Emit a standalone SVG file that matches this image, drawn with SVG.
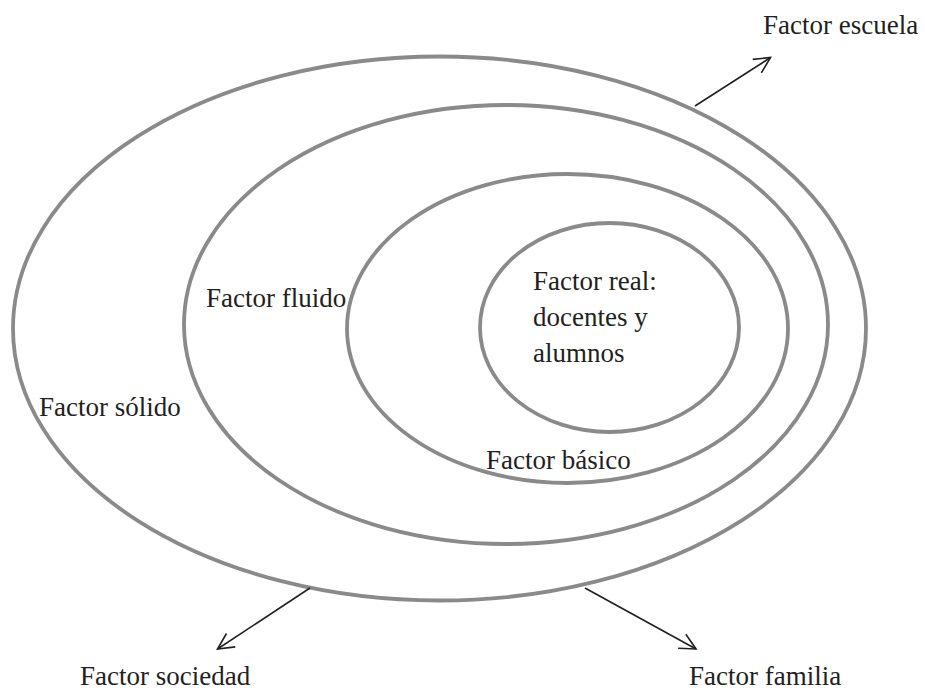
<svg xmlns="http://www.w3.org/2000/svg" width="925" height="690" viewBox="0 0 925 690">
<style>
.ring{fill:none;stroke:#8a8a8d;stroke-width:3.8}
.lbl{font-family:'Liberation Serif','Times New Roman',Times,'DejaVu Serif',serif;font-size:27px;fill:#231f20}
.conn{stroke:#231f20;stroke-width:1.6;fill:none}
</style>
<defs>
<marker id="arr" viewBox="0 0 20 20" refX="18" refY="10" markerWidth="20" markerHeight="20" markerUnits="userSpaceOnUse" orient="auto">
<path d="M2,2 L18,10 L2,18" fill="none" stroke="#231f20" stroke-width="1.6"/>
</marker>
</defs>
<rect width="925" height="690" fill="#fff"/>
<g id="solido">
<ellipse class="ring" cx="439.5" cy="328.5" rx="426.5" ry="272"/>
<text class="lbl" x="39" y="416" font-family="Liberation Serif, serif">Factor sólido</text>
</g>
<g id="fluido">
<ellipse class="ring" cx="506" cy="324.5" rx="322" ry="219.5"/>
<text class="lbl" x="206" y="307">Factor fluido</text>
</g>
<g id="basico">
<ellipse class="ring" cx="567.5" cy="328.5" rx="220.5" ry="154.5"/>
<text class="lbl" x="486" y="469">Factor básico</text>
</g>
<g id="real">
<ellipse class="ring" cx="609.5" cy="327.5" rx="129.5" ry="104.5"/>
<text class="lbl" x="533" y="290">Factor real:</text>
<text class="lbl" x="533" y="326">docentes y</text>
<text class="lbl" x="533" y="362">alumnos</text>
</g>
<g id="escuela">
<text class="lbl" x="763" y="34">Factor escuela</text>
</g>
<g id="sociedad">
<text class="lbl" x="80" y="685">Factor sociedad</text>
</g>
<g id="familia">
<text class="lbl" x="689" y="685">Factor familia</text>
</g>
<g id="connectors">
<line class="conn" x1="695" y1="106" x2="770.5" y2="57.5" marker-end="url(#arr)"/>
<line class="conn" x1="310" y1="588" x2="217.5" y2="649" marker-end="url(#arr)"/>
<line class="conn" x1="585" y1="588" x2="696" y2="649" marker-end="url(#arr)"/>
</g>
</svg>
